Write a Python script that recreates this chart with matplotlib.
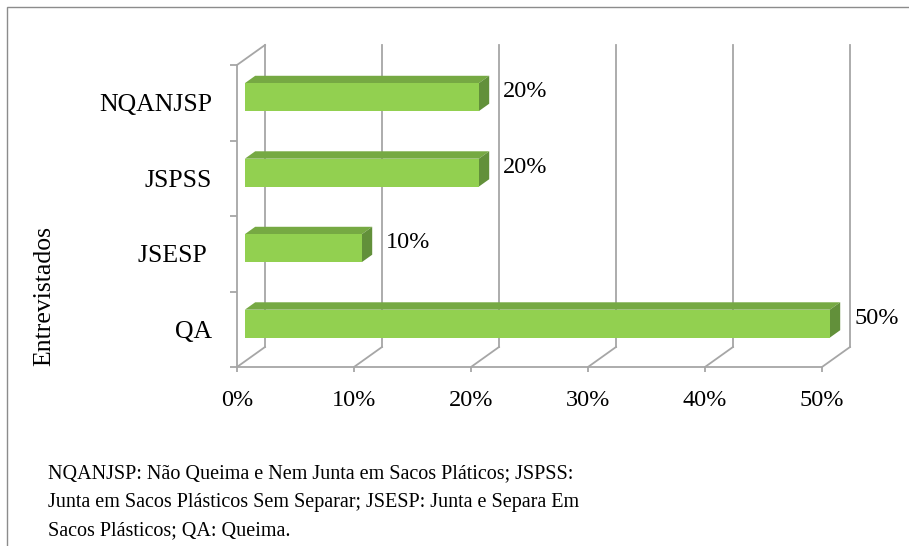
import matplotlib.pyplot as plt
from matplotlib.patches import Polygon, Rectangle

# dados do gráfico
categorias = ["QA", "JSESP ", "JSPSS", "NQANJSP"]
valores = [50, 10, 20, 20]
rotulos = ["50%", "10%", "20%", "20%"]
ticks_x = [0, 10, 20, 30, 40, 50]
ticks_x_rot = ["0%", "10%", "20%", "30%", "40%", "50%"]
titulo_y = "Entrevistados"
nota = ["NQANJSP: Não Queima e Nem Junta em Sacos Pláticos; JSPSS:",
        "Junta em Sacos Plásticos Sem Separar; JSESP: Junta e Separa Em",
        "Sacos Plásticos; QA: Queima."]

plt.rcParams['font.family'] = ['Liberation Serif', 'DejaVu Serif']

W, H = 909, 546
fig = plt.figure(figsize=(W / 100, H / 100), dpi=100)

# moldura
fig.patches.append(Rectangle((7 / W, -0.1), 1.2, 1 - 7 / H + 0.1, transform=fig.transFigure,
                             fill=False, edgecolor='#8C8C8C', linewidth=1.0))

ax = fig.add_axes([237 / W, 1 - 367 / H, (822 - 237) / W, (367 - 65) / H])
ax.set_xlim(0, 50)
ax.set_ylim(-0.5, 3.5)
ax.patch.set_alpha(0)

# profundidade do efeito 3D (em unidades de dados)
dx = 28 * 50 / (822 - 237)
dy = 20 * 4 / (367 - 65)
cinza = '#A6A6A6'

# parede do fundo e chão
for t in ticks_x:
    ax.plot([t + dx, t + dx], [-0.5 + dy, 3.5 + dy], color=cinza, lw=1.3, clip_on=False, zorder=1)
    ax.plot([t, t + dx], [-0.5, -0.5 + dy], color=cinza, lw=1.3, clip_on=False, zorder=1)
ax.plot([0, dx], [3.5, 3.5 + dy], color=cinza, lw=1.3, clip_on=False, zorder=1)

for s in ['top', 'right']:
    ax.spines[s].set_visible(False)
for s in ['left', 'bottom']:
    ax.spines[s].set_color(cinza)
    ax.spines[s].set_linewidth(1.3)

# barras 3D
f1, f2, h = 0.28, 0.65, 0.37
c_frente, c_topo, c_lado = '#92D050', '#76A943', '#62903A'
for i, v in enumerate(valores):
    yb = i - h / 2
    yt = i + h / 2
    topo = Polygon([(f1 * dx, yt + f1 * dy), (v + f1 * dx, yt + f1 * dy),
                    (v + f2 * dx, yt + f2 * dy), (f2 * dx, yt + f2 * dy)],
                   closed=True, facecolor=c_topo, edgecolor='none', clip_on=False, zorder=3)
    lado = Polygon([(v + f1 * dx, yb + f1 * dy), (v + f2 * dx, yb + f2 * dy),
                    (v + f2 * dx, yt + f2 * dy), (v + f1 * dx, yt + f1 * dy)],
                   closed=True, facecolor=c_lado, edgecolor='none', clip_on=False, zorder=3)
    frente = Rectangle((f1 * dx, yb + f1 * dy), v, h, facecolor=c_frente,
                       edgecolor='none', clip_on=False, zorder=4)
    ax.add_patch(topo)
    ax.add_patch(lado)
    ax.add_patch(frente)
    ax.annotate(rotulos[i], (v + f2 * dx, i + f2 * dy), xytext=(14, -2),
                textcoords='offset pixels', ha='left', va='center',
                fontsize=17.5, annotation_clip=False)

# eixos
ax.set_xticks(ticks_x)
ax.set_xticklabels(ticks_x_rot, fontsize=17.5)
ax.tick_params(axis='x', length=5 * 0.72, color=cinza, width=1.3, pad=13)
ax.set_yticks([-0.5, 0.5, 1.5, 2.5, 3.5])
ax.set_yticklabels([])
ax.tick_params(axis='y', which='major', length=7 * 0.72, color=cinza, width=1.3)
ax.set_yticks(range(len(categorias)), minor=True)
ax.set_yticklabels(categorias, minor=True, fontsize=18.5)
ax.tick_params(axis='y', which='minor', length=0, pad=18)

fig.text(44 / W, 1 - 296 / H, titulo_y, rotation=90, ha='center', va='center', fontsize=18.5)

# nota de rodapé
for k, linha in enumerate(nota):
    fig.text(48 / W, 1 - (478 + 28.5 * k) / H, linha, ha='left', va='baseline', fontsize=14.5)

fig.savefig('out.png', dpi=100)
